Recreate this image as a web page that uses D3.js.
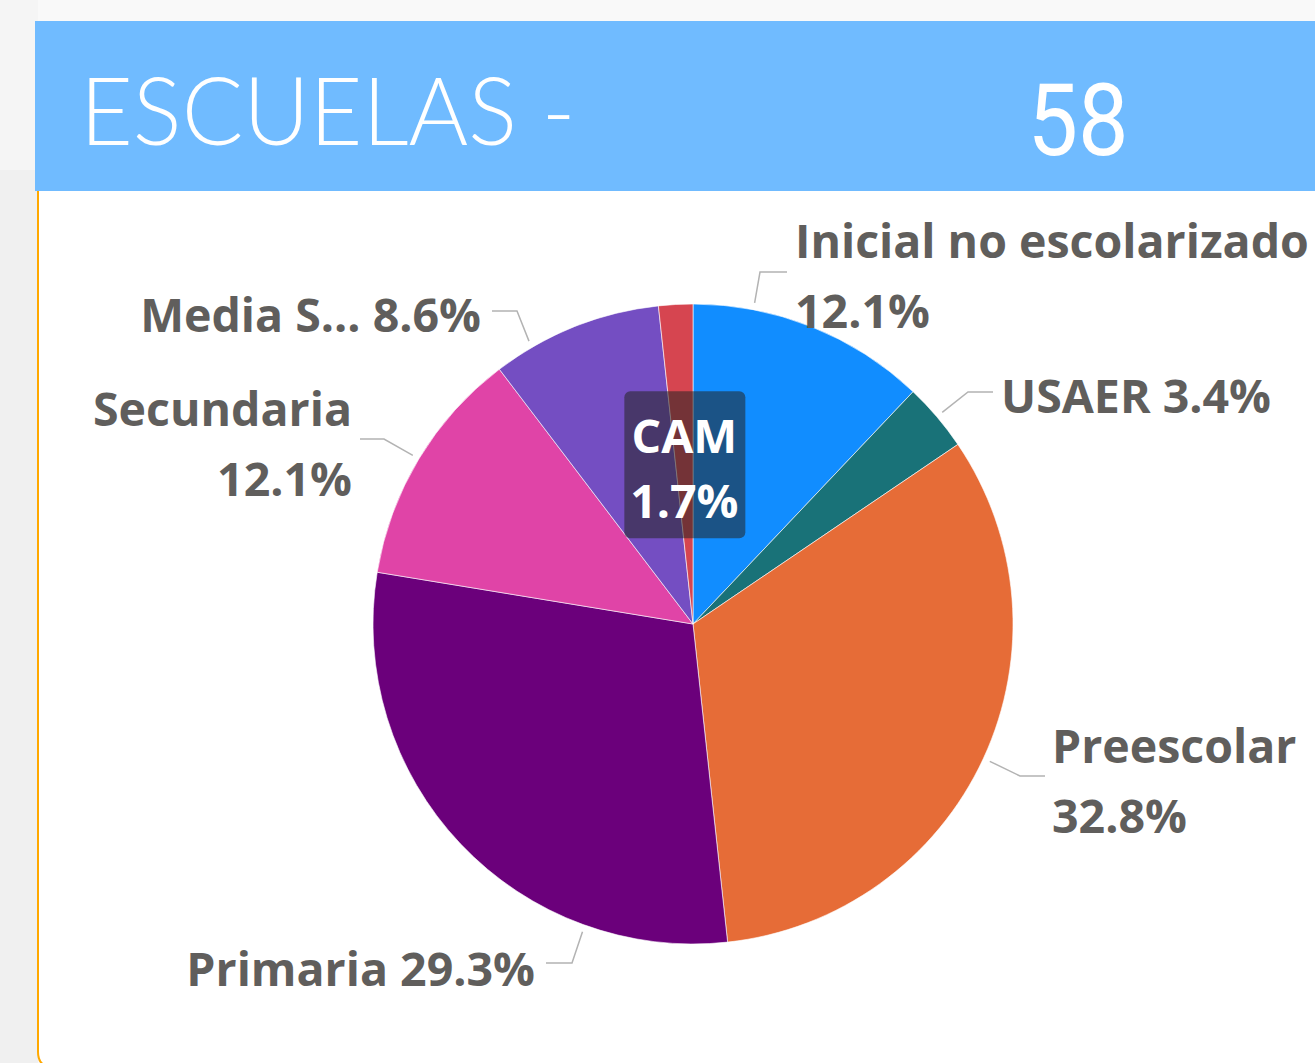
<!DOCTYPE html>
<html>
<head>
<meta charset="utf-8">
<script src="https://cdn.jsdelivr.net/npm/d3@7"></script>
<style>
  html, body { margin: 0; padding: 0; background: #f9f9f9; }
  svg { display: block; }
  .lbl { font-family: "Open Sans", "Noto Sans", sans-serif; font-weight: 700; fill: #605e5c; }
</style>
</head>
<body>
<div id="chart"></div>
<script>
(function () {
  'use strict';

  // ── data ──────────────────────────────────────
  var categories = ['Inicial no escolarizado', 'USAER', 'Preescolar', 'Primaria', 'Secundaria', 'Media Superior', 'CAM'];
  var shortNames = ['Inicial no escolarizado', 'USAER', 'Preescolar', 'Primaria', 'Secundaria', 'Media S…', 'CAM'];
  var schools = [7, 2, 19, 17, 7, 5, 1];
  var colors = ['#118DFF', '#197278', '#E66C37', '#6B007B', '#E044A7', '#744EC2', '#D64550'];
  var titleText = 'ESCUELAS -';
  var totalText = '58';

  var W = 1315, H = 1063;
  var cx = 693, cy = 624, R = 320;
  var fs = 46.5;

  var svg = d3.select('#chart').append('svg')
    .attr('width', W)
    .attr('height', H);

  // page background / card
  svg.append('rect').attr('x', 0).attr('y', 0).attr('width', W).attr('height', H).attr('fill', '#f9f9f9');
  svg.append('rect').attr('x', 0).attr('y', 0).attr('width', 38).attr('height', 170).attr('fill', '#f5f5f5');
  svg.append('rect').attr('x', 0).attr('y', 170).attr('width', 38).attr('height', H - 170).attr('fill', '#f0f0f0');
  svg.append('path')
    .attr('d', 'M38,191 L38,1052 Q38,1063 46,1066 L' + W + ',1066 L' + W + ',191 Z')
    .attr('fill', '#fff');
  svg.append('path')
    .attr('d', 'M38,191 L38,1052 Q38,1063 46,1066')
    .attr('fill', 'none')
    .attr('stroke', '#FFA800')
    .attr('stroke-width', 2);

  // header
  svg.append('rect').attr('x', 35).attr('y', 21).attr('width', W - 35).attr('height', 170).attr('fill', '#70BBFF');
  svg.append('text')
    .attr('x', 80).attr('y', 145)
    .attr('font-family', 'Lato, "Open Sans", sans-serif')
    .attr('font-weight', 300)
    .attr('font-size', 94)
    .attr('fill', '#fff')
    .attr('transform', 'translate(80,0) scale(0.97,1) translate(-80,0)')
    .text(titleText);
  svg.append('text')
    .attr('x', 1078).attr('y', 155)
    .attr('text-anchor', 'middle')
    .attr('font-family', 'Roboto, sans-serif')
    .attr('font-size', 100)
    .attr('fill', '#fff')
    .attr('transform', 'translate(1078,0) scale(0.9,1) translate(-1078,0)')
    .text(totalText);

  // ── pie ───────────────────────────────────────
  var total = d3.sum(schools);
  var rows = categories.map(function (c, i) {
    return { name: c, short: shortNames[i], value: schools[i], color: colors[i] };
  });

  var pie = d3.pie().sort(null).value(function (d) { return d.value; });
  var arcs = pie(rows);
  var arc = d3.arc().innerRadius(0).outerRadius(R);

  var g = svg.append('g').attr('transform', 'translate(' + cx + ',' + cy + ')');

  g.selectAll('path.slice')
    .data(arcs)
    .enter().append('path')
    .attr('class', 'slice')
    .attr('d', arc)
    .attr('fill', function (d) { return d.data.color; })
    .attr('stroke', '#fff')
    .attr('stroke-width', 0.6);

  function pct(d) { return (d.value / total * 100).toFixed(1) + '%'; }

  // label layout: where along the slice the leader starts (0..1), elbow, text anchor
  var layout = [
    { f: 0.25, elbow: [760, 272], end: [787, 272], tx: 795, ty: 258, anchor: 'start', lines: 2 },
    { f: 0.5, elbow: [968, 392], end: [993, 392], tx: 1001, ty: 413, anchor: 'start', lines: 1 },
    { f: 0.5, elbow: [1020, 776], end: [1045, 776], tx: 1052, ty: 763, anchor: 'start', lines: 2 },
    { f: 0.246, elbow: [572, 963], end: [546, 963], tx: 535, ty: 986, anchor: 'end', lines: 1 },
    { f: 0.5, elbow: [384, 439], end: [360, 439], tx: 352, ty: 426, anchor: 'end', lines: 2 },
    { f: 0.23, elbow: [517, 311], end: [492, 311], tx: 481, ty: 332, anchor: 'end', lines: 1 },
    null
  ];

  var lineGen = d3.line();
  var labels = svg.append('g');

  arcs.forEach(function (d, i) {
    var L = layout[i];
    if (!L) return;
    var a = d.startAngle + (d.endAngle - d.startAngle) * L.f;
    var r0 = R + 7;
    var p0 = [cx + r0 * Math.sin(a), cy - r0 * Math.cos(a)];
    labels.append('path')
      .attr('d', lineGen([p0, L.elbow, L.end]))
      .attr('fill', 'none')
      .attr('stroke', '#b3b3b3')
      .attr('stroke-width', 1.5);

    var t = labels.append('text')
      .attr('class', 'lbl')
      .attr('font-size', fs)
      .attr('text-anchor', L.anchor);
    if (L.lines === 2) {
      t.append('tspan').attr('x', L.tx).attr('y', L.ty).text(d.data.short);
      t.append('tspan').attr('x', L.tx).attr('y', L.ty + 70).text(pct(d.data));
    } else {
      t.attr('x', L.tx).attr('y', L.ty).text(d.data.short + ' ' + pct(d.data));
    }
  });

  // inside label for the small slice
  var cam = arcs[6];
  var c = d3.arc().innerRadius(0).outerRadius(R).centroid(cam);
  var bx = cx + c[0], by = cy + c[1];
  svg.append('rect')
    .attr('x', bx - 60).attr('y', by - 73)
    .attr('width', 121).attr('height', 147)
    .attr('rx', 6)
    .attr('fill', '#252423')
    .attr('fill-opacity', 0.55);
  var ct = svg.append('text')
    .attr('class', 'lbl')
    .attr('font-size', fs)
    .attr('text-anchor', 'middle')
    .style('fill', '#fff');
  ct.append('tspan').attr('x', bx).attr('y', by - 11).text(cam.data.short);
  ct.append('tspan').attr('x', bx).attr('y', by + 54).text(pct(cam.data));
})();
</script>
</body>
</html>
